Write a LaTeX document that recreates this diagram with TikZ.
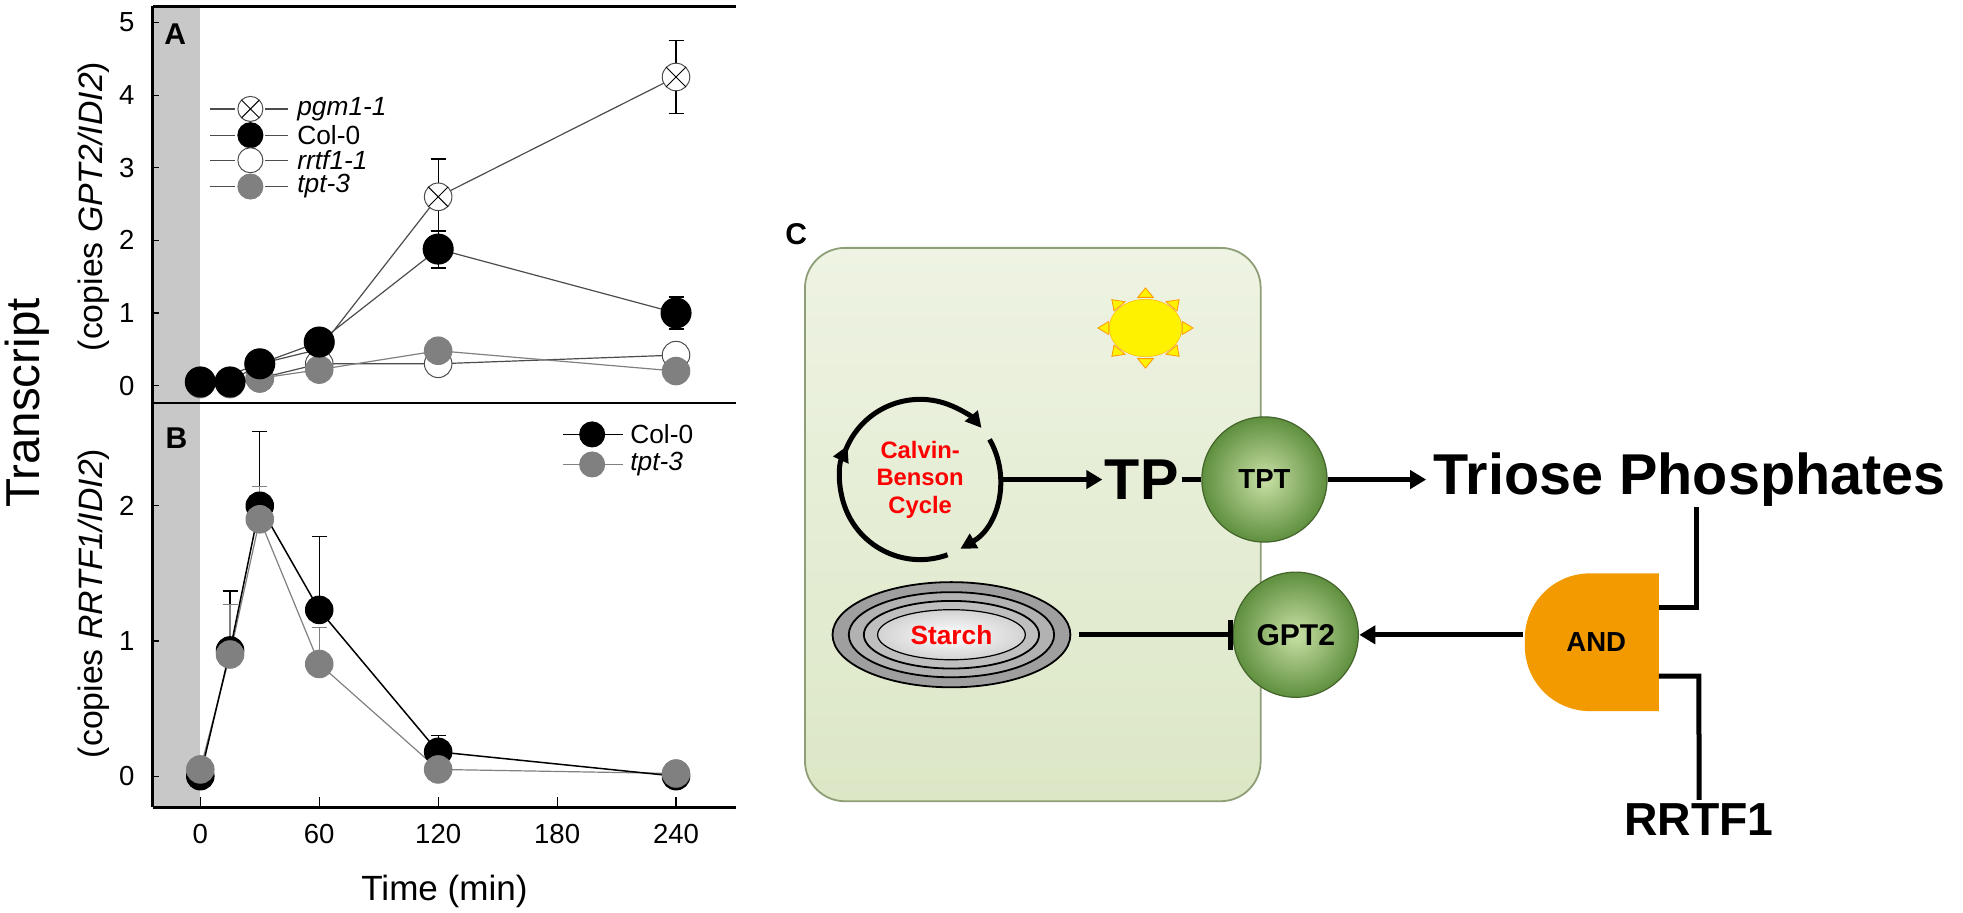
\documentclass[tikz,border=0pt]{standalone}
\usepackage{fontspec}
\setmainfont{Liberation Sans}
\usetikzlibrary{arrows.meta,shapes.geometric,calc}
\definecolor{gbox}{HTML}{DCE7C6}
\definecolor{gboxt}{HTML}{EEF3E3}
\definecolor{gedge}{HTML}{8E9E76}
\definecolor{gin}{HTML}{C9E1A6}
\definecolor{gout}{HTML}{5F8F3E}
\definecolor{andc}{HTML}{F39A00}
\definecolor{bandc}{HTML}{C8C8C8}
\definecolor{tptc}{HTML}{808080}
\begin{document}
\begin{tikzpicture}[x=1pt,y=-1pt,scale=1.2518,every node/.style={transform shape},
  fs/.style={font=\fontsize{#1}{#1}\selectfont},
  mk/.style={line width=1pt},
  colm/.style={fill=black,draw=black},
  tptm/.style={fill=tptc,draw=tptc},
  openm/.style={fill=white,draw=black!70},
  ln/.style={draw=black!70,line width=1.2pt},
  lng/.style={draw=tptc,line width=1.2pt},
  ball/.style={circle,minimum size=100pt,inner sep=0pt,shading=radial,inner color=gin,outer color=gout,draw=gout!70!black,line width=1.2pt},
  big/.style={font=\bfseries\fontsize{#1}{#1}\selectfont},
  arr/.style={line width=5pt,-{Triangle[length=16pt,width=18pt]}},
  th/.style={line width=5pt}]
\useasboundingbox (0,0) rectangle (1568,728.6);
% ---------- plots ----------
\fill[bandc] (122,5) rectangle (160,645);
\draw[line width=2.5pt] (122,5) -- (588,5) (122,322) -- (588,322) (122,645) -- (588,645) (122,5)--(122,645);
\foreach \t in {0,60,120,180,240}{
  \pgfmathsetmacro\xx{160+1.5833*\t}
  \draw[line width=1.2pt] (\xx,645) -- (\xx,637);
  \node[fs=22,anchor=north] at (\xx,655) {\t};}
\node[fs=28] (xl) at (355,712) {Time (min)};
\node[fs=38,rotate=90] (yl) at (22,322) {Transcript};
\node[fs=27,rotate=90] (yla) at (75,165) {(copies \textit{GPT2/IDI2})};
\node[fs=27,rotate=90] (ylb) at (75,482) {(copies \textit{RRTF1/IDI2})};
\node[font=\bfseries\fontsize{24}{24}\selectfont] (lA) at (140,27) {A};
\node[font=\bfseries\fontsize{24}{24}\selectfont] (lB) at (141,350) {B};
% panel A
\begin{scope}[shift={(160,308)},x=1.5833pt,y=58pt]
 \foreach \v in {0,...,5}{\draw[line width=1.2pt] (-24,\v) -- ++(5pt,0); \node[fs=22,anchor=east] at (-31,\v) {\v};}
 \draw[ln] (0,0.05)--(15,0.15)--(30,0.3)--(60,0.5)--(120,2.6)--(240,4.25);
 \draw[ln] (0,0.05)--(15,0.05)--(30,0.3)--(60,0.6)--(120,1.88)--(240,1.0);
 \draw[ln] (0,0.05)--(15,0.05)--(30,0.1)--(60,0.3)--(120,0.3)--(240,0.42);
 \draw[lng] (0,0.02)--(15,0.02)--(30,0.1)--(60,0.22)--(120,0.48)--(240,0.2);
 \foreach \x/\lo/\hi in {120/2.13/3.12,240/3.75/4.75,15/0.08/0.2,60/0.4/0.6,120/1.62/2.13,240/0.78/1.22}{
   \draw[line width=1.2pt] (\x,\lo)--(\x,\hi) ($(\x,\hi)+(-6pt,0)$)--++(12pt,0) ($(\x,\lo)+(-6pt,0)$)--++(12pt,0);}
 \draw[line width=1.2pt,draw=black!60] (240,0.42)--(240,0.57) ($(240,0.57)+(-6pt,0)$)--++(12pt,0);
 \foreach \x/\y in {0/0.05,15/0.05,30/0.1,60/0.3,120/0.3,240/0.42} \draw[openm,mk] (\x,\y) circle[radius=11pt];
 \foreach \x/\y in {0/0.02,15/0.02,30/0.1,60/0.22,120/0.48,240/0.2} \draw[tptm,mk] (\x,\y) circle[radius=11pt];
 \foreach \x/\y in {0/0.05,15/0.05,30/0.3,60/0.6,120/1.88,240/1.0} \draw[colm,mk] (\x,\y) circle[radius=12pt];
 \foreach \x/\y in {120/2.6,240/4.25} {\draw[openm,mk] (\x,\y) circle[radius=11pt];
   \draw[mk] ($(\x,\y)+(-7.8pt,-7.8pt)$)--++(15.6pt,15.6pt) ($(\x,\y)+(-7.8pt,7.8pt)$)--++(15.6pt,-15.6pt);}
\end{scope}
\foreach \y/\t/\s in {87/\textit{pgm1-1}/openm,108/Col-0/colm,128/\textit{rrtf1-1}/openm,149/\textit{tpt-3}/tptm}{
  \draw[line width=1.2pt,draw=black!70] (168,\y)--(188,\y) (212,\y)--(230,\y);
  \draw[\s,mk] (200,\y) circle[radius=10pt];
  \node[fs=21,anchor=west] at (234,\y) {\t};}
\draw[mk] (193,80)--(207,94) (193,94)--(207,80);
% panel B
\begin{scope}[shift={(160,620)},x=1.5833pt,y=108pt]
 \foreach \v in {0,1,2}{\draw[line width=1.2pt] (-24,\v) -- ++(5pt,0); \node[fs=22,anchor=east] at (-31,\v) {\v};}
 \draw[lng] (0,0.05)--(15,0.9)--(30,1.9)--(60,0.83)--(120,0.05)--(240,0.02);
 \draw[line width=1.5pt] (0,0)--(15,0.93)--(30,2.0)--(60,1.23)--(120,0.18)--(240,0);
 \foreach \x/\lo/\hi in {15/0.93/1.37,30/2.0/2.55,60/1.23/1.77,120/0.18/0.3}
   \draw[line width=1.2pt] (\x,\lo)--(\x,\hi) ($(\x,\hi)+(-6pt,0)$)--++(12pt,0);
 \foreach \x/\lo/\hi in {15/0.9/1.27,30/1.9/2.14,60/0.83/1.1}
   \draw[line width=1.2pt,draw=tptc] (\x,\lo)--(\x,\hi) ($(\x,\hi)+(-6pt,0)$)--++(12pt,0);
 \foreach \x/\y in {0/0,15/0.93,30/2.0,60/1.23,120/0.18,240/0} \draw[colm,mk] (\x,\y) circle[radius=11pt];
 \foreach \x/\y in {0/0.05,15/0.9,30/1.9,60/0.83,120/0.05,240/0.02} \draw[tptm,mk] (\x,\y) circle[radius=11pt];
\end{scope}
\foreach \y/\t/\s/\c in {347/Col-0/colm/black,371/\textit{tpt-3}/tptm/tptc}{
  \draw[line width=1.2pt,draw=\c] (450,\y)--(498,\y);
  \draw[\s,mk] (473,\y) circle[radius=10pt];
  \node[fs=21,anchor=west] at (500,\y) {\t};}
% ---------- panel C ----------
\node[font=\bfseries\fontsize{24}{24}\selectfont] (lC) at (636,187) {C};
\node[draw=gedge,line width=1.8pt,rounded corners=40pt,minimum width=364pt,minimum height=442pt,shading=axis,top color=gboxt,bottom color=gbox] (cell) at (825,419) {};
\foreach \a in {0,45,...,315}
  \draw[fill=yellow,draw=orange!80!yellow,line width=0.8pt] ($(915,262)+(\a:38pt and 32pt)$) -- ($(915,262)+(\a+12:30pt and 25pt)$) -- ($(915,262)+(\a-12:30pt and 25pt)$) -- cycle;
\node[ellipse,fill=yellow,draw=orange!70!yellow,minimum width=58pt,minimum height=46pt,inner sep=0pt] (sun) at (915,262) {};
\node[align=center,text=red,font=\bfseries\fontsize{19}{22}\selectfont] (cb) at (735,383) {Calvin-\\Benson\\Cycle};
\draw[line width=5pt,-{Triangle[length=16pt,width=16pt]}] ([shift={(160:64pt)}]735,383) arc[start angle=160,end angle=40,radius=64pt];
\draw[line width=5pt,-{Triangle[length=16pt,width=16pt]}] ([shift={(30:64pt)}]735,383) arc[start angle=30,end angle=-60,radius=64pt];
\draw[line width=5pt,-{Triangle[length=16pt,width=16pt]}] ([shift={(-70:64pt)}]735,383) arc[start angle=-70,end angle=-205,radius=64pt];
\coordinate (cbe) at (800,383);
\node[big=46,inner sep=2pt] (tp) at (912,383) {TP};
\node[ball] (tpt) at (1010,383) {\bfseries\fontsize{22}{22}\selectfont TPT};
\draw[th] (tp.east) -- (tpt.west);
\draw[arr] (cbe) -- (tp.west);
\node[big=46,anchor=west,inner sep=0pt] (trio) at (1145,383) {Triose Phosphates};
\draw[arr] (tpt.east) -- ([xshift=-6pt]trio.west);
\node[ball] (gpt) at (1035,507) {\bfseries\fontsize{24}{24}\selectfont GPT2};
\draw[fill=gray!75,line width=1.8pt] (760,507) ellipse[x radius=95pt,y radius=42pt];
\draw[fill=gray!60,line width=1.8pt] (760,507) ellipse[x radius=82pt,y radius=34pt];
\draw[fill=gray!50,line width=1.8pt] (760,507) ellipse[x radius=70pt,y radius=27pt];
\node[ellipse,minimum width=118pt,minimum height=40pt,inner sep=0pt,shading=radial,inner color=white,outer color=gray!35,draw=black,line width=1.2pt,text=red,font=\bfseries\fontsize{21}{21}\selectfont] (st) at (760,507) {Starch};
\coordinate (sE) at (862,507);
\draw[line width=5pt,-{Bar[width=30pt,line width=5pt]}] (sE) -- (gpt.west);
\fill[andc] (1325,458) -- (1270,458) to[out=180,in=90] (1218,510) -- (1218,516) to[out=-90,in=180] (1270,568) -- (1325,568) -- cycle;
\node[big=22] (and) at (1275,513) {AND};
\coordinate (andw) at (1216,507);
\draw[arr] (andw) -- (gpt.east);
\draw[th] (1355,405) |- (1325,485);
\node[big=37] (rr) at (1357,655) {RRTF1};
\draw[th] (rr.north) -- (1357,540) -- (1325,540);
\end{tikzpicture}
\end{document}
